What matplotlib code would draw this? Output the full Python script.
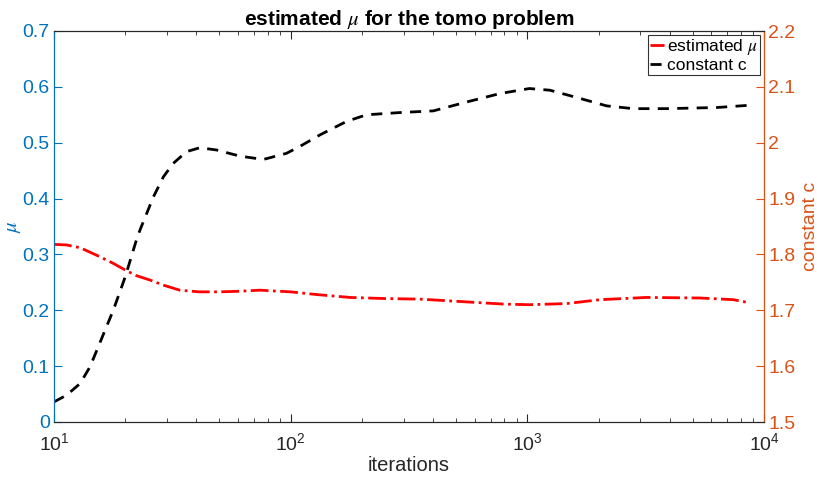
import matplotlib
matplotlib.use('Agg')
import matplotlib.pyplot as plt
from matplotlib.ticker import LogLocator, NullFormatter

plt.rcParams['font.family'] = ['Liberation Sans', 'DejaVu Sans']
plt.rcParams['mathtext.fontset'] = 'stix'

# estimated mu (left axis)
it_mu = [10, 11.3, 12.9, 15.6, 17.8, 20, 22.3, 25.5, 29, 34, 41, 50, 60, 74, 100, 130, 178,
         250, 351, 555, 800, 1020, 1466, 2030, 3190, 5360, 7420, 8650]
mu = [0.318, 0.317, 0.312, 0.296, 0.284, 0.272, 0.262, 0.254, 0.245, 0.236, 0.233, 0.233,
      0.234, 0.236, 0.233, 0.228, 0.223, 0.221, 0.220, 0.215, 0.211, 0.210, 0.212, 0.219,
      0.223, 0.222, 0.219, 0.2135]

# constant c (right axis)
it_c = [10, 11.3, 12.9, 14.2, 15.6, 17.8, 20, 22.3, 23.1, 26.3, 29, 31.9, 36.3, 41.3, 48.6,
        61, 76.6, 96, 109, 133, 172, 209, 290, 401, 555, 766, 1020, 1245, 1615, 2160,
        2800, 3875, 6300, 8650]
c = [1.536, 1.548, 1.569, 1.599, 1.641, 1.70, 1.76, 1.826, 1.844, 1.903, 1.939, 1.963,
     1.984, 1.991, 1.987, 1.976, 1.970, 1.981, 1.993, 2.014, 2.038, 2.050, 2.054, 2.057,
     2.073, 2.088, 2.097, 2.094, 2.081, 2.066, 2.061, 2.061, 2.063, 2.067]

blue = (0, 0.447, 0.741)
orange = (0.85, 0.325, 0.098)
gray = (0.15, 0.15, 0.15)

fig = plt.figure(figsize=(8.17, 4.79), dpi=100)
ax = fig.add_axes([54 / 817, 1 - 422 / 479, 710 / 817, 391 / 479])
ax2 = ax.twinx()

l1, = ax.plot(it_mu, mu, color='red', linestyle='-.', linewidth=2, label='estimated $\\mu$')
l2, = ax2.plot(it_c, c, color='black', linestyle='--', linewidth=2, dashes=(4, 3),
               label='constant c')

ax.set_xscale('log')
ax.set_xlim(10, 1e4)
ax.set_ylim(0, 0.7)
ax2.set_ylim(1.5, 2.2)
ax.set_yticks([0, 0.1, 0.2, 0.3, 0.4, 0.5, 0.6, 0.7])
ax.set_yticklabels(['0', '0.1', '0.2', '0.3', '0.4', '0.5', '0.6', '0.7'])
ax2.set_yticks([1.5, 1.6, 1.7, 1.8, 1.9, 2.0, 2.1, 2.2])
ax2.set_yticklabels(['1.5', '1.6', '1.7', '1.8', '1.9', '2', '2.1', '2.2'])
ax.xaxis.set_major_locator(LogLocator(base=10, numticks=10))
ax.xaxis.set_minor_locator(LogLocator(base=10, subs=range(2, 10), numticks=10))
ax.xaxis.set_minor_formatter(NullFormatter())

ax.tick_params(axis='x', which='both', direction='in', top=True, colors=gray, labelsize=14,
               pad=7)
ax.tick_params(axis='x', which='major', length=6, width=0.8)
ax.tick_params(axis='x', which='minor', length=3, width=0.6)
ax.tick_params(axis='y', direction='in', colors=blue, labelsize=14, length=6, pad=3)
ax2.tick_params(axis='y', direction='in', colors=orange, labelsize=14, length=6, pad=3)

for sp in ['top', 'bottom']:
    ax.spines[sp].set_color(gray)
    ax2.spines[sp].set_color(gray)
ax2.spines['left'].set_color(blue)
ax2.spines['right'].set_color(orange)
ax.spines['left'].set_color(blue)

ax.set_xlabel('iterations', fontsize=14.5, color=gray, labelpad=2)
ax.set_ylabel('$\\mu$', fontsize=15, color=blue)
ax.yaxis.set_label_coords(-0.044, 0.5)
ax2.set_ylabel('constant c', fontsize=14, color=orange)
ax2.yaxis.set_label_coords(1.053, 0.5)
ax.set_title('estimated $\\mu$ for the tomo problem', fontsize=15, fontweight='bold', pad=3)

leg = ax2.legend(handles=[l1, l2], loc='upper right', fontsize=12.5, frameon=True,
                 fancybox=False, edgecolor='black', borderpad=0.1, handlelength=0.8,
                 handletextpad=0.2, borderaxespad=0.25, labelspacing=0.05)
leg.get_frame().set_linewidth(0.8)

fig.savefig('out.png', dpi=100)
